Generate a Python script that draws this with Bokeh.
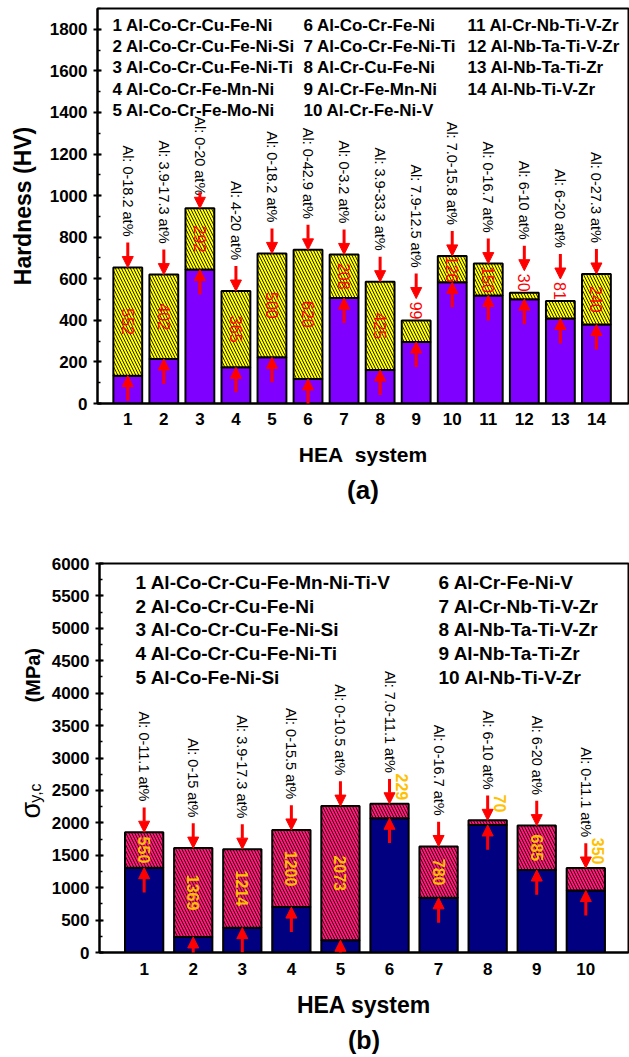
import math
from bokeh.plotting import figure
from bokeh.models import (ColumnDataSource, Arrow, NormalHead, FixedTicker, Title,
                          SingleIntervalTicker, Range1d)
from bokeh.layouts import column, row
from bokeh.embed import file_html
from bokeh.resources import INLINE
from bokeh.core.properties import value

# ---------------- data: panel (a) hardness ----------------
a_ids = [1, 2, 3, 4, 5, 6, 7, 8, 9, 10, 11, 12, 13, 14]
a_systems = ["1 Al-Co-Cr-Cu-Fe-Ni", "2 Al-Co-Cr-Cu-Fe-Ni-Si", "3 Al-Co-Cr-Cu-Fe-Ni-Ti",
             "4 Al-Co-Cr-Fe-Mn-Ni", "5 Al-Co-Cr-Fe-Mo-Ni", "6 Al-Co-Cr-Fe-Ni",
             "7 Al-Co-Cr-Fe-Ni-Ti", "8 Al-Cr-Cu-Fe-Ni", "9 Al-Cr-Fe-Mn-Ni",
             "10 Al-Cr-Fe-Ni-V", "11 Al-Cr-Nb-Ti-V-Zr", "12 Al-Nb-Ta-Ti-V-Zr",
             "13 Al-Nb-Ta-Ti-Zr", "14 Al-Nb-Ti-V-Zr"]
a_base = [134, 214, 644, 174, 222, 118, 507, 161, 296, 583, 520, 502, 409, 380]
a_top = [654, 620, 939, 541, 722, 739, 717, 586, 399, 710, 673, 533, 493, 623]
a_delta = ["552", "402", "292", "365", "500", "620", "208", "425", "99", "126",
           "150", "30", "81", "240"]
a_al = ["Al: 0-18.2 at%", "Al: 3.9-17.3 at%", "Al: 0-20 at%", "Al: 4-20 at%",
        "Al: 0-18.2 at%", "Al: 0-42.9 at%", "Al: 0-3.2 at%", "Al: 3.9-33.3 at%",
        "Al: 7.9-12.5 at%", "Al: 7.0-15.8 at%", "Al: 0-16.7 at%", "Al: 6-10 at%",
        "Al: 6-20 at%", "Al: 0-27.3 at%"]

# ---------------- data: panel (b) compressive yield strength ----------------
b_ids = [1, 2, 3, 4, 5, 6, 7, 8, 9, 10]
b_systems = ["1 Al-Co-Cr-Cu-Fe-Mn-Ni-Ti-V", "2 Al-Co-Cr-Cu-Fe-Ni", "3 Al-Co-Cr-Cu-Fe-Ni-Si",
             "4 Al-Co-Cr-Cu-Fe-Ni-Ti", "5 Al-Co-Fe-Ni-Si", "6 Al-Cr-Fe-Ni-V",
             "7 Al-Cr-Nb-Ti-V-Zr", "8 Al-Nb-Ta-Ti-V-Zr", "9 Al-Nb-Ta-Ti-Zr",
             "10 Al-Nb-Ti-V-Zr"]
b_base = [1308, 240, 383, 700, 189, 2070, 843, 1967, 1272, 955]
b_top = [1855, 1610, 1594, 1890, 2258, 2294, 1635, 2039, 1957, 1303]
b_delta = ["550", "1369", "1214", "1200", "2073", "229", "780", "70", "685", "350"]
b_al = ["Al: 0-11.1 at%", "Al: 0-15 at%", "Al: 3.9-17.3 at%", "Al: 0-15.5 at%",
        "Al: 0-10.5 at%", "Al: 7.0-11.1 at%", "Al: 0-16.7 at%", "Al: 6-10 at%",
        "Al: 6-20 at%", "Al: 0-11.1 at%"]

FONT = "Liberation Sans"
W = 629


def pxmap(L, R, T, B, xr, yr):
    sx = (xr[1] - xr[0]) / (R - L)
    sy = (yr[1] - yr[0]) / (B - T)
    return (lambda px: xr[0] + (px - L) * sx), (lambda py: yr[0] + (B - py) * sy), sx, sy


def make_fig(w, h, off_x, off_y, L, R, T, B, xr, yr, ytick):
    p = figure(width=w, height=h, x_range=Range1d(*xr), y_range=Range1d(*yr),
               output_backend="svg", toolbar_location=None, title=None,
               min_border_left=L - off_x, min_border_right=W - R,
               min_border_top=T - off_y, min_border_bottom=h - (B - off_y))
    p.xgrid.visible = False
    p.ygrid.visible = False
    p.outline_line_color = "black"
    p.outline_line_width = 2
    p.background_fill_color = "white"
    p.border_fill_color = "white"
    for ax in (p.xaxis[0], p.yaxis[0]):
        ax.axis_line_width = 2
        ax.axis_line_color = "black"
        ax.major_tick_line_width = 2
        ax.minor_tick_line_width = 1.5
        ax.major_label_text_font = FONT
        ax.major_label_text_font_style = "bold"
        ax.major_label_text_font_size = "17px"
        ax.major_label_text_color = "black"
        ax.axis_label_text_font = FONT
        ax.axis_label_text_font_style = "bold"
        ax.axis_label_text_color = "black"
    p.xaxis.major_tick_in = 0
    p.xaxis.major_tick_out = 0
    p.xaxis.major_label_standoff = 9
    p.yaxis.ticker = SingleIntervalTicker(interval=ytick, num_minor_ticks=2)
    p.yaxis.major_tick_in = 4
    p.yaxis.major_tick_out = 4
    p.yaxis.minor_tick_in = 3
    p.yaxis.minor_tick_out = 0
    p.yaxis.major_label_standoff = 6
    return p


def arrows(p, xs, y0, y1):
    src = ColumnDataSource(dict(x=xs, y0=y0, y1=y1))
    p.add_layout(Arrow(end=NormalHead(size=11, fill_color="red", line_color="red"),
                       source=src, x_start="x", y_start="y0", x_end="x", y_end="y1",
                       line_color="red", line_width=3))


# ====================== panel (a) ======================
A_H = 520
AL, AR, AT, AB = 97, 628, 8, 403
A_XR, A_YR = (0.16, 14.89), (0, 1900)
fxa, fya, sxa, sya = pxmap(AL, AR, AT, AB, A_XR, A_YR)
pa = make_fig(W, A_H, 0, 0, AL, AR, AT, AB, A_XR, A_YR, 200)
pa.xaxis.ticker = FixedTicker(ticks=a_ids)
pa.yaxis.axis_label = "Hardness (HV)"
pa.yaxis.axis_label_text_font_size = "23px"
pa.yaxis.axis_label_standoff = 11
pa.xaxis.axis_label = "HEA\u00a0 system"
pa.xaxis.axis_label_text_font_size = "21px"
pa.xaxis.axis_label_standoff = 15
pa.add_layout(Title(text="(a)", align="center", text_font=FONT, text_font_style="bold",
                    text_font_size="26px", text_color="black", standoff=8), "below")

pa.vbar(x=a_ids, bottom=0, top=a_base, width=0.8, fill_color="#8000FF",
        line_color="black", line_width=2)
pa.vbar(x=a_ids, bottom=a_base, top=a_top, width=0.8, fill_color="#FFFF00",
        hatch_pattern="left_diagonal_line", hatch_color="#222200", hatch_scale=6,
        hatch_weight=1, line_color="black", line_width=2)

a_out = [int(v) < 100 for v in a_delta]
a_len = [16 if i == 3 else 25 for i in a_ids]      # short arrow under the key block
a_gap = [-3 if i == 3 else 6 for i in a_ids]
a_tip = [t + (22 * sya if o else 0) for t, o in zip(a_top, a_out)]
a_start = [t + n * sya for t, n in zip(a_tip, a_len)]
arrows(pa, a_ids, a_start, a_tip)
arrows(pa, a_ids, [max(b - 25 * sya, -1 * sya) for b in a_base], a_base)

pa.text(x=a_ids, y=[s + g * sya for s, g in zip(a_start, a_gap)], text=a_al,
        angle=-math.pi / 2, text_align="right", text_baseline="middle",
        text_font=value(FONT), text_font_size="14.5px", text_color="black")
a_ly = [t + 10 * sya if o else (b + t) / 2 for b, t, o in zip(a_base, a_top, a_out)]
pa.text(x=a_ids, y=a_ly, text=a_delta, angle=-math.pi / 2, text_align="center",
        text_baseline="middle", text_font=value(FONT), text_font_size="16px",
        text_color="#FF0000")

a_cols = [112, 303, 467]
a_lx = [fxa(a_cols[i // 5]) for i in range(len(a_systems))]
a_lyy = [fya(25 + 21.2 * (i % 5)) for i in range(len(a_systems))]
pa.text(x=a_lx, y=a_lyy, text=a_systems, text_align="left", text_baseline="middle",
        text_font=value(FONT), text_font_size="17px", text_font_style="bold",
        text_color="black")

# ====================== panel (b) ======================
B_H = 537
LBL_W = 45
BL, BR, BT, BB = 99, 628, 563, 955
B_XR, B_YR = (0.09, 10.87), (0, 6000)
fxb, fyb, sxb, syb = pxmap(BL, BR, BT, BB, B_XR, B_YR)
pb = make_fig(W - LBL_W, B_H, LBL_W, A_H, BL, BR, BT, BB, B_XR, B_YR, 500)
pb.xaxis.ticker = FixedTicker(ticks=b_ids)
pb.xaxis.major_label_standoff = 10
pb.xaxis.axis_label = "HEA system"
pb.xaxis.axis_label_text_font_size = "23px"
pb.xaxis.axis_label_standoff = 14
pb.add_layout(Title(text="(b)", align="center", text_font=FONT, text_font_style="bold",
                    text_font_size="25px", text_color="black", standoff=7), "below")

pb.vbar(x=b_ids, bottom=0, top=b_base, width=0.78, fill_color="#000080",
        line_color="black", line_width=2)
pb.vbar(x=b_ids, bottom=b_base, top=b_top, width=0.78, fill_color="#FF1A78",
        hatch_pattern="left_diagonal_line", hatch_color="#3a0015", hatch_scale=6,
        hatch_weight=1, line_color="black", line_width=2)

b_out = [int(v) < 400 for v in b_delta]
b_start = [t + 25 * syb for t in b_top]
arrows(pb, b_ids, b_start, b_top)
arrows(pb, b_ids, [max(b - 25 * syb, -2 * syb) for b in b_base], b_base)

pb.text(x=b_ids, y=[s + 6 * syb for s in b_start], text=b_al, angle=-math.pi / 2,
        text_align="right", text_baseline="middle", text_font=value(FONT),
        text_font_size="14.5px", text_color="black")
b_lx = [i + (12 * sxb if o else 0) for i, o in zip(b_ids, b_out)]
b_ly = [t + 17 * syb if o else (b + t) / 2 for b, t, o in zip(b_base, b_top, b_out)]
pb.text(x=b_lx, y=b_ly, text=b_delta, angle=-math.pi / 2, text_align="center",
        text_baseline="middle", text_font=value(FONT), text_font_size="16px",
        text_font_style="bold", text_color="#FFC000")

b_cols = [135, 438]
b_lx2 = [fxb(b_cols[i // 5]) for i in range(len(b_systems))]
b_ly2 = [fyb(582 + 24 * (i % 5)) for i in range(len(b_systems))]
pb.text(x=b_lx2, y=b_ly2, text=b_systems, text_align="left", text_baseline="middle",
        text_font=value(FONT), text_font_size="19px", text_font_style="bold",
        text_color="black")

# y-axis title of panel (b): sigma with subscript, drawn in a narrow side canvas
# that shares the vertical scale of panel (b)
yl = figure(width=LBL_W, height=B_H, x_range=Range1d(0, LBL_W), y_range=Range1d(*B_YR),
            output_backend="svg", toolbar_location=None, title=None,
            x_axis_type=None, y_axis_type=None,
            min_border_left=0, min_border_right=0,
            min_border_top=BT - A_H, min_border_bottom=B_H - (BB - A_H))
yl.outline_line_color = None
yl.xgrid.visible = False
yl.ygrid.visible = False
yl_parts = ["σ", "y,c", "(MPa)"]
yl.text(x=[30, 35, 32], y=[fyb(820), fyb(804), fyb(703)], text=yl_parts,
        angle=math.pi / 2, text_align="left", text_baseline="alphabetic",
        text_font=value(FONT), text_font_size=["27px", "16px", "20px"],
        text_font_style=["normal", "normal", "bold"], text_color="black")

layout = column(pa, row(yl, pb, spacing=0), spacing=0)
open("out.html", "w").write(file_html(layout, INLINE))
